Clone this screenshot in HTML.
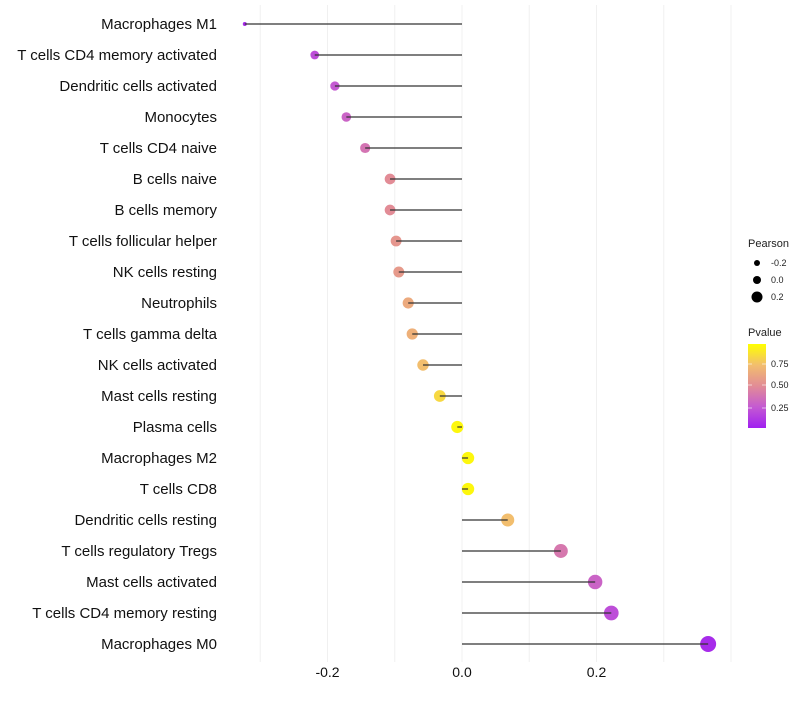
<!DOCTYPE html>
<html><head><meta charset="utf-8"><style>
body{margin:0;background:#fff;font-family:"Liberation Sans",sans-serif}
</style></head><body>
<svg id="chart" width="800" height="700" xmlns="http://www.w3.org/2000/svg"></svg>
<script>
const categories=["Macrophages M1","T cells CD4 memory activated","Dendritic cells activated","Monocytes","T cells CD4 naive","B cells naive","B cells memory","T cells follicular helper","NK cells resting","Neutrophils","T cells gamma delta","NK cells activated","Mast cells resting","Plasma cells","Macrophages M2","T cells CD8","Dendritic cells resting","T cells regulatory  Tregs","Mast cells activated","T cells CD4 memory resting","Macrophages M0"];
const pearson=[-0.323,-0.219,-0.189,-0.172,-0.144,-0.107,-0.107,-0.098,-0.094,-0.080,-0.074,-0.058,-0.033,-0.007,0.009,0.009,0.068,0.147,0.198,0.222,0.366];
const pvalue=[0.05,0.2,0.25,0.3,0.38,0.5,0.5,0.55,0.57,0.65,0.68,0.75,0.85,0.97,0.97,0.97,0.75,0.4,0.3,0.2,0.05];
const xTicks=[-0.2,0.0,0.2];
const xTickLabels=["-0.2","0.0","0.2"];
const NS="http://www.w3.org/2000/svg";
const svg=document.getElementById('chart');
const x=v=>462+v*672.5;
const y=i=>24+i*31;
const rad=v=>2+6*Math.sqrt(Math.max(0,(v+0.323)/0.689));
const stops=[[0,[160,32,240]],[0.25,[196,90,210]],[0.5,[226,140,150]],[0.75,[242,190,110]],[1,[255,255,0]]];
function col(p){for(let k=1;k<stops.length;k++){if(p<=stops[k][0]){const a=stops[k-1],b=stops[k],t=(p-a[0])/(b[0]-a[0]);return 'rgb('+a[1].map((c,j)=>Math.round(c+(b[1][j]-c)*t)).join(',')+')';}}return 'rgb(255,255,0)';}
function el(t,a,parent){const e=document.createElementNS(NS,t);for(const k in a)e.setAttribute(k,a[k]);(parent||svg).appendChild(e);return e;}
const grid=el('g',{});


for(let v=-0.3;v<=0.41;v+=0.1){el('line',{x1:x(v),x2:x(v),y1:5,y2:662,stroke:'#f0f0f0','stroke-width':1},grid);}
const xa=el('g',{});


xTicks.forEach((v,i)=>{const t=el('text',{x:x(v),y:677,'text-anchor':'middle','font-size':14,fill:'#111'},xa);t.textContent=xTickLabels[i];});
const ya=el('g',{});


categories.forEach((c,i)=>{const t=el('text',{x:217,y:y(i)+5,'text-anchor':'end','font-size':15,fill:'#111'},ya);t.textContent=c;});
const marks=el('g',{});


categories.forEach((c,i)=>{
 const p=el('circle',{cx:x(pearson[i]),cy:y(i),r:rad(pearson[i]),fill:col(pvalue[i])},marks);
 
 
 const l=el('line',{x1:x(0),x2:x(pearson[i]),y1:y(i),y2:y(i),stroke:'#333','stroke-width':1.2},marks);
 
 
});
const lg=el('g',{});


el('text',{x:748,y:247,'font-size':11,fill:'#222'},lg).textContent='Pearson';
[-0.2,0,0.2].forEach((v,i)=>{el('circle',{cx:757,cy:263+i*17,r:4+v*5+(v>0?0.5:0),fill:'#000'},lg);el('text',{x:771,y:266+i*17,'font-size':9,fill:'#222'},lg).textContent=['-0.2','0.0','0.2'][i];});
const cg=el('g',{});


el('text',{x:748,y:336,'font-size':11,fill:'#222'},cg).textContent='Pvalue';
const defs=el('defs',{});
const gr=el('linearGradient',{id:'pg',x1:0,y1:1,x2:0,y2:0},defs);
stops.forEach(s=>el('stop',{offset:s[0],'stop-color':'rgb('+s[1].join(',')+')'},gr));
el('rect',{x:748,y:344,width:18,height:84,fill:'url(#pg)'},cg);
[[0.75,364],[0.5,385],[0.25,408]].forEach(a=>{el('line',{x1:748,x2:752,y1:a[1],y2:a[1],stroke:'#fff','stroke-opacity':0.6},cg);el('line',{x1:762,x2:766,y1:a[1],y2:a[1],stroke:'#fff','stroke-opacity':0.6},cg);el('text',{x:771,y:a[1]+3,'font-size':9,fill:'#222'},cg).textContent=a[0].toFixed(2);});
</script>
</body></html>
